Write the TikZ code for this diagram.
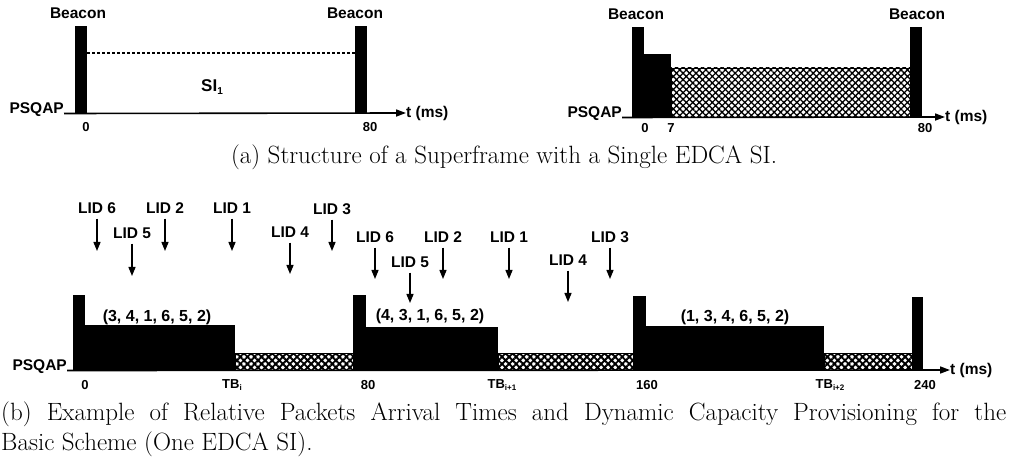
\documentclass[tikz,border=0pt]{standalone}
\usepackage{fontspec}
\newfontfamily\labfont{Liberation Sans}
\usetikzlibrary{patterns.meta,arrows.meta}
\begin{document}
\begin{tikzpicture}[x=1pt,y=-1pt,
  lab/.style={font=\labfont\bfseries\fontsize{15.5}{18}\selectfont, inner sep=1pt},
  tick/.style={font=\labfont\bfseries\fontsize{13}{15}\selectfont, inner sep=0pt},
  tup/.style={font=\labfont\bfseries\fontsize{16}{18}\selectfont, inner sep=0pt},
  captext/.style={font=\fontsize{25}{30}\selectfont, inner sep=0pt},
  hatchA/.style={draw=black, line width=0.8pt, pattern={Hatch[angle=45,distance=4.6pt,line width=1.3pt]}},
  hatchB/.style={draw=black, line width=0.8pt, pattern={Hatch[angle=45,distance=5pt,line width=1.9pt]}},
  axis/.style={line width=1.6pt, -{Triangle[length=10pt,width=7pt]}},
  lidarr/.style={line width=1.3pt, -{Triangle[length=9pt,width=7pt]}, shorten <=4pt},
  dline/.style={line width=1.2pt, dash pattern=on 3pt off 2pt}
]
\useasboundingbox (0,0) rectangle (1009,470);

% ---------- (a) left ----------
\fill (75,26) rectangle (87,113);
\fill (355,26) rectangle (367,113);
\draw[dline] (87,53) -- (355,53);
\node[lab] (bA1) at (78,13) {Beacon};
\node[lab] (bA2) at (355,13) {Beacon};
\node[font=\labfont\bfseries\fontsize{17}{20}\selectfont] (si) at (212,87) {SI\raisebox{-3pt}{\fontsize{10}{12}\selectfont 1}};
\node[lab, anchor=base east, inner sep=0pt] (psA) at (64,113.5) {PSQAP};
\node[lab, anchor=west, inner sep=0pt] (tA) at (406,113) {t (ms)};
\draw[axis] (psA.base east) -- (tA.west);
\node[tick] (zA) at (86,127) {0};
\node[tick] (eA) at (370,127) {80};

% ---------- (a) right ----------
\fill (632,27) rectangle (644,117);
\fill (644,54) rectangle (671,117);
\filldraw[hatchA] (671,68) rectangle (910,117);
\fill (910,27) rectangle (922,117);
\node[lab] (bB1) at (636,14) {Beacon};
\node[lab] (bB2) at (917,14) {Beacon};
\node[lab, anchor=base east, inner sep=0pt] (psB) at (622,117.5) {PSQAP};
\node[lab, anchor=west, inner sep=0pt] (tB) at (945,117) {t (ms)};
\draw[axis] (psB.base east) -- (tB.west);
\node[tick] (zB) at (645,128) {0};
\node[tick] (sB) at (671,128) {7};
\node[tick] (eB) at (925,128) {80};

\node[captext] (capA) at (504,157) {(a) Structure of a Superframe with a Single EDCA SI.};

% ---------- (b) ----------
\fill (73,295) rectangle (85,370);
\fill (85,325) rectangle (235,370);
\filldraw[hatchB] (235,353) rectangle (353,370);
\fill (353,295) rectangle (366,370);
\fill (366,327) rectangle (498,370);
\filldraw[hatchB] (498,353) rectangle (633,370);
\fill (633,296) rectangle (646,370);
\fill (646,326) rectangle (824,370);
\filldraw[hatchB] (824,353) rectangle (912,370);
\fill (912,297) rectangle (923,370);

\node[lab, anchor=base east, inner sep=0pt] (psC) at (67,370.5) {PSQAP};
\node[lab, anchor=west, inner sep=0pt] (tC) at (950,370) {t (ms)};
\draw[axis] (psC.base east) -- (tC.west);

\node[tick] (t0) at (85,385) {0};
\node[tick] (t1) at (232,385) {TB\raisebox{-2.5pt}{\fontsize{8}{9}\selectfont i}};
\node[tick] (t2) at (368,385) {80};
\node[tick] (t3) at (502,385) {TB\raisebox{-2.5pt}{\fontsize{8}{9}\selectfont i+1}};
\node[tick] (t4) at (647,385) {160};
\node[tick] (t5) at (830,385) {TB\raisebox{-2.5pt}{\fontsize{8}{9}\selectfont i+2}};
\node[tick] (t6) at (925,385) {240};

\node[tup] (q1) at (157,317) {(3, 4, 1, 6, 5, 2)};
\node[tup] (q2) at (430,316) {(4, 3, 1, 6, 5, 2)};
\node[tup] (q3) at (735,317) {(1, 3, 4, 6, 5, 2)};

% LID arrows, first superframe
\node[lab] (a6) at (97,208) {LID 6};   \coordinate (e-a6) at (97,251);
\node[lab] (a5) at (132,233) {LID 5};  \coordinate (e-a5) at (132,276);
\node[lab] (a2) at (165,208) {LID 2};  \coordinate (e-a2) at (165,251);
\node[lab] (a1) at (232,208) {LID 1};  \coordinate (e-a1) at (232,251);
\node[lab] (a4) at (290,232) {LID 4};  \coordinate (e-a4) at (290,274);
\node[lab] (a3) at (332,209) {LID 3};  \coordinate (e-a3) at (332,251);
% second superframe
\node[lab] (b6) at (375,237) {LID 6};  \coordinate (e-b6) at (375,279);
\node[lab] (b5) at (410,262) {LID 5};  \coordinate (e-b5) at (410,303);
\node[lab] (b2) at (443,237) {LID 2};  \coordinate (e-b2) at (443,279);
\node[lab] (b1) at (509,237) {LID 1};  \coordinate (e-b1) at (509,279);
\node[lab] (b4) at (568,260) {LID 4};  \coordinate (e-b4) at (568,302);
\node[lab] (b3) at (610,237) {LID 3};  \coordinate (e-b3) at (610,279);
\foreach \n in {a6,a5,a2,a1,a4,a3,b6,b5,b2,b1,b4,b3}
  \draw[lidarr] (\n) -- (e-\n);

\node[captext, anchor=north west, text width=1005pt, align=justify] (capB) at (1,402) {(b) Example of Relative Packets Arrival Times and Dynamic Capacity Provisioning for the\linebreak Basic Scheme (One EDCA SI).};
\end{tikzpicture}
\end{document}
